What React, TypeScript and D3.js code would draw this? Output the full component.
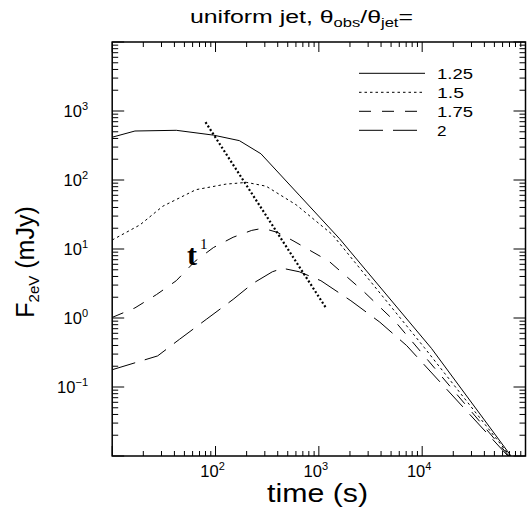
import React from "react";
import * as d3 from "d3";

const W = 527;
const H = 510;

// ---- data ----
const ratios = ["1.25", "1.5", "1.75", "2"];
const t125 = [10, 16.6, 41.7, 95.5, 170, 275, 646, 1585, 12300, 72400];
const f125 = [417, 513, 525, 447, 372, 240, 60.3, 14.1, 0.363, 0.01];
const t150 = [10, 18.6, 30.9, 64.6, 126, 200, 309, 603, 1350, 10500, 70800];
const f150 = [13.5, 22.4, 41.7, 72.4, 87.1, 92.3, 81.3, 43.7, 16.2, 0.372, 0.01];
const t175 = [10, 16.6, 26.9, 41.7, 63.1, 95.5, 148, 224, 288, 398, 562, 1259, 2692, 5623, 69200];
const f175 = [1.02, 1.4, 2.19, 3.47, 6.61, 10.5, 14.8, 18.6, 20.0, 17.4, 13.2, 6.61, 2.45, 0.85, 0.01];
const t200 = [10, 27.5, 44.7, 81.3, 148, 229, 355, 447, 646, 1047, 2042, 3890, 7079, 67600];
const f200 = [0.178, 0.282, 0.49, 0.955, 1.86, 3.16, 4.68, 5.25, 4.68, 3.47, 1.78, 0.871, 0.398, 0.01];
const slopeT = [80, 1180];
const slopeF = [690, 1.38];

const xDecades = [10, 100, 1000, 10000, 100000];
const yDecades = [0.01, 0.1, 1, 10, 100, 1000, 10000];
const xLabelExp = [2, 3, 4];
const yLabelExp = [-1, 0, 1, 2, 3];

const dashes = ["none", "2.5,3", "12,11", "24,10"];

export default function App() {
  const left = 112.2, right = 525.5, top = 42, bottom = 456;
  const x = d3.scaleLog().domain([10, 100000]).range([left, right]);
  const y = d3.scaleLog().domain([0.01, 10000]).range([bottom, top]);

  const series = [
    [t125, f125],
    [t150, f150],
    [t175, f175],
    [t200, f200],
  ];
  const line = d3
    .line<[number, number]>()
    .x((d) => x(d[0]))
    .y((d) => y(d[1]));

  const xMinor: number[] = [];
  xDecades.slice(0, -1).forEach((d) => {
    for (let k = 2; k <= 9; k++) xMinor.push(d * k);
  });
  const yMinor: number[] = [];
  yDecades.slice(0, -1).forEach((d) => {
    for (let k = 2; k <= 9; k++) yMinor.push(d * k);
  });

  const font = "Liberation Sans, Arial, Helvetica, sans-serif";

  return (
    <svg width={W} height={H} style={{ position: "absolute", left: 0, top: 0 }} fontFamily={font}>
      <rect width={W} height={H} fill="white" />
      <defs>
        <clipPath id="plotclip">
          <rect x={left} y={top} width={right - left} height={bottom - top} />
        </clipPath>
      </defs>

      {/* title */}
      <text x={190} y={23} fontSize={18} textLength={223} lengthAdjust="spacingAndGlyphs">
        uniform jet, θ<tspan fontSize={12} dy={4}>obs</tspan>
        <tspan dy={-4}>/θ</tspan>
        <tspan fontSize={12} dy={4}>jet</tspan>
        <tspan dy={-4}>=</tspan>
      </text>

      {/* ticks */}
      <g stroke="black" strokeWidth={1}>
        {xDecades.map((d) => (
          <g key={"xM" + d}>
            <line x1={x(d)} x2={x(d)} y1={bottom} y2={bottom - 10} />
            <line x1={x(d)} x2={x(d)} y1={top} y2={top + 10} />
          </g>
        ))}
        {xMinor.map((d) => (
          <g key={"xm" + d}>
            <line x1={x(d)} x2={x(d)} y1={bottom} y2={bottom - 5} />
            <line x1={x(d)} x2={x(d)} y1={top} y2={top + 5} />
          </g>
        ))}
        {yDecades.map((d) => (
          <g key={"yM" + d}>
            <line x1={left} x2={left + 12} y1={y(d)} y2={y(d)} />
            <line x1={right} x2={right - 12} y1={y(d)} y2={y(d)} />
          </g>
        ))}
        {yMinor.map((d) => (
          <g key={"ym" + d}>
            <line x1={left} x2={left + 6} y1={y(d)} y2={y(d)} />
            <line x1={right} x2={right - 6} y1={y(d)} y2={y(d)} />
          </g>
        ))}
      </g>

      {/* tick labels */}
      {xLabelExp.map((e) => (
        <text key={"xl" + e} x={x(Math.pow(10, e)) - 3} y={477} fontSize={16.5} textAnchor="middle">
          10<tspan fontSize={11} dy={-7}>{e}</tspan>
        </text>
      ))}
      {yLabelExp.map((e) => (
        <text key={"yl" + e} x={88} y={y(Math.pow(10, e)) + 6} fontSize={16.5} textAnchor="end">
          10<tspan fontSize={11} dy={-7}>{e < 0 ? "−" + Math.abs(e) : e}</tspan>
        </text>
      ))}

      {/* axis titles */}
      <text x={267} y={502} fontSize={25} textLength={101} lengthAdjust="spacingAndGlyphs">
        time (s)
      </text>
      <text transform={`translate(34,${262}) rotate(-90)`} fontSize={25} textAnchor="middle">
        F<tspan fontSize={15} dy={5}>2eV</tspan>
        <tspan dy={-5}> (mJy)</tspan>
      </text>

      {/* curves */}
      <g clipPath="url(#plotclip)" fill="none" stroke="black" strokeWidth={1}>
        {series.map(([ts, fs], i) => (
          <path
            key={"s" + i}
            d={line(ts.map((t, j) => [t, fs[j]] as [number, number])) || ""}
            strokeDasharray={dashes[i]}
          />
        ))}
        <path
          d={line(slopeT.map((t, j) => [t, slopeF[j]] as [number, number])) || ""}
          strokeWidth={2.2}
          strokeDasharray="2,2.2"
        />
      </g>

      {/* t^1 label */}
      <text x={187} y={265} fontSize={30} fontFamily="Liberation Serif, Times New Roman, serif" fontWeight="bold">
        t
      </text>
      <text x={200} y={249} fontSize={15} fontFamily="Liberation Serif, Times New Roman, serif">
        1
      </text>

      {/* legend */}
      {ratios.map((r, i) => (
        <g key={"lg" + r}>
          <line
            x1={359}
            x2={425}
            y1={73.3 + i * 19}
            y2={73.3 + i * 19}
            stroke="black"
            strokeWidth={1}
            strokeDasharray={dashes[i]}
          />
          <text
            x={437}
            y={73.3 + i * 19 + 5.5}
            fontSize={15.5}
            textLength={r.length === 1 ? 9.5 : r.length === 3 ? 27 : 36}
            lengthAdjust="spacingAndGlyphs"
          >
            {r}
          </text>
        </g>
      ))}

      {/* frame */}
      <rect x={left} y={top} width={right - left} height={bottom - top} fill="none" stroke="black" strokeWidth={1.5} />
    </svg>
  );
}
